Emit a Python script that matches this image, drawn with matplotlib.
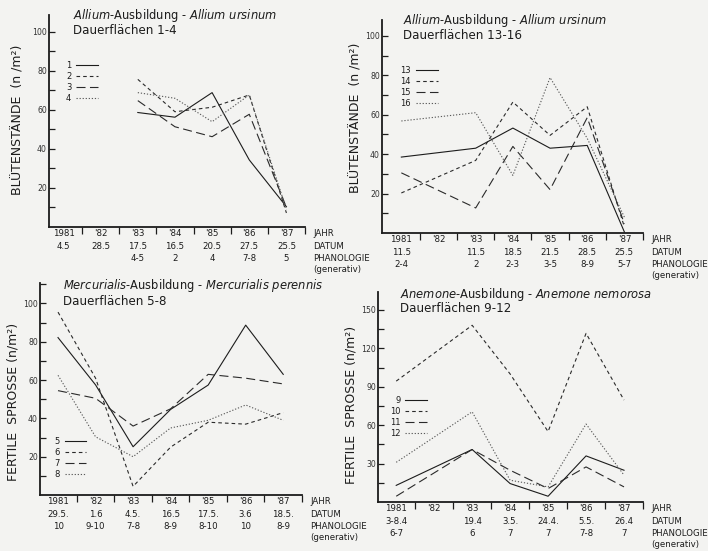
import numpy as np
import matplotlib
matplotlib.use("Agg")
import matplotlib.pyplot as plt

plt.rcParams["lines.scale_dashes"] = False

nan = np.nan
years = ["1981", "'82", "'83", "'84", "'85", "'86", "'87"]
right_rows = ["JAHR", "DATUM", "PHANOLOGIE", "(generativ)"]

# Panel 1: Allium, Dauerflächen 1-4
p1_labels = ["1", "2", "3", "4"]
p1_s1 = [nan, nan, 58.7, 56.3, 68.9, 34.4, 10.4]
p1_s2 = [nan, nan, 75.7, 59.1, 61.4, 67.7, 7.2]
p1_s3 = [nan, nan, 64.8, 51.4, 46.3, 57.8, 10.0]
p1_s4 = [nan, nan, 68.9, 66.0, 54.0, 67.7, 9.0]
p1_dates = ["4.5", "28.5", "17.5", "16.5", "20.5", "27.5", "25.5"]
p1_phen = ["", "", "4-5", "2", "4", "7-8", "5"]

# Panel 2: Allium, Dauerflächen 13-16
p2_labels = ["13", "14", "15", "16"]
p2_s13 = [38.5, nan, 43.0, 53.2, 43.0, 44.4, 0.5]
p2_s14 = [20.3, nan, 36.8, 66.4, 49.5, 64.0, 3.0]
p2_s15 = [30.5, nan, 12.7, 43.9, 22.0, 58.5, 4.6]
p2_s16 = [56.8, nan, 61.0, 29.2, 78.8, 48.0, 8.0]
p2_dates = ["11.5", "", "11.5", "18.5", "21.5", "28.5", "25.5"]
p2_phen = ["2-4", "", "2", "2-3", "3-5", "8-9", "5-7"]

# Panel 3: Mercurialis, Dauerflächen 5-8
p3_labels = ["5", "6", "7", "8"]
p3_s5 = [82.2, 57.5, 25.2, 44.7, 57.4, 88.7, 63.0]
p3_s6 = [95.5, 61.0, 4.5, 25.0, 38.0, 37.0, 43.0]
p3_s7 = [54.5, 50.5, 36.0, 45.0, 63.0, 61.0, 58.0]
p3_s8 = [62.5, 30.4, 20.0, 35.0, 39.0, 47.0, 39.0]
p3_dates = ["29.5.", "1.6", "4.5.", "16.5", "17.5.", "3.6", "18.5."]
p3_phen = ["10", "9-10", "7-8", "8-9", "8-10", "10", "8-9"]

# Panel 4: Anemone, Dauerflächen 9-12
p4_labels = ["9", "10", "11", "12"]
p4_s9 = [13.0, nan, 41.0, 14.4, 4.5, 36.0, 24.8]
p4_s10 = [94.4, nan, 138.0, 100.0, 55.0, 131.7, 79.6]
p4_s11 = [4.5, nan, 41.0, 24.8, 10.5, 27.4, 11.8]
p4_s12 = [31.0, nan, 70.4, 17.0, 11.8, 60.9, 21.0]
p4_dates = ["3-8.4", "", "19.4", "3.5.", "24.4.", "5.5.", "26.4"]
p4_phen = ["6-7", "", "6", "7", "7", "7-8", "7"]

BG = "#f3f3f1"
INK = "#1c1c1c"
styles = ["-", (0, (2.6, 2.2)), (0, (6.5, 3.2)), (0, (0.9, 1.3))]
colors = [INK, "#2a2a2a", "#2a2a2a", "#5a5a5a"]

fig = plt.figure(figsize=(7.08, 5.51), dpi=100, facecolor=BG)
W, H = 708, 551


def px_ax(l, r, t, b):
    return fig.add_axes([l / W, 1 - b / H, (r - l) / W, (b - t) / H])


def panel(ax, series, labels, xlim, ylim, major, minor, dates, phen,
          title1, title2, tpos, leg_anchor):
    ax.set_facecolor(BG)
    x = np.arange(len(years))
    for s, lab, ls, c in zip(series, labels, styles, colors):
        s = np.asarray(s, dtype=float)
        m = ~np.isnan(s)
        ax.plot(x[m], s[m], color=c, lw=0.8, ls=ls, label=lab)
    ax.set_xlim(*xlim)
    ax.set_ylim(*ylim)
    for sp in ["top", "right"]:
        ax.spines[sp].set_visible(False)
    for sp in ["left", "bottom"]:
        ax.spines[sp].set_linewidth(1.3)
        ax.spines[sp].set_color(INK)
    ax.set_yticks(np.arange(minor, ylim[1], minor), minor=True)
    ax.set_yticks(major)
    ax.set_yticklabels([str(v) for v in major], fontsize=5.6, color="#333333")
    ax.tick_params(axis="y", which="both", direction="in", length=4,
                   width=0.9, pad=1.5, color=INK)
    ax.set_xticks(np.arange(0.5, 7, 1.0))
    ax.set_xticklabels([])
    ax.tick_params(axis="x", direction="out", length=5, width=0.9, color=INK)
    offs = [5.0, 14.0, 22.5, 30.5]
    for i in range(len(years)):
        for row, txt in enumerate([years[i], dates[i], phen[i]]):
            ax.annotate(txt, xy=(i, 0), xycoords=("data", "axes fraction"),
                        xytext=(0, -offs[row]), textcoords="offset points",
                        ha="center", va="center", fontsize=6.2, color=INK)
    for j, t in enumerate(right_rows):
        ax.annotate(t, xy=(6.5, 0), xycoords=("data", "axes fraction"),
                    xytext=(6, -offs[j]), textcoords="offset points",
                    ha="left", va="center", fontsize=6.2, color=INK)
    ax.text(tpos[0], tpos[1], title1, transform=ax.transAxes, fontsize=8.3,
            ha="left", va="center", color=INK)
    ax.text(tpos[0], tpos[2], title2, transform=ax.transAxes, fontsize=8.6,
            ha="left", va="center", color=INK)
    leg = ax.legend(loc="upper left", bbox_to_anchor=leg_anchor,
                    markerfirst=False, frameon=False, fontsize=6,
                    handlelength=2.6, handletextpad=0.6, labelspacing=0.25,
                    borderpad=0, borderaxespad=0)
    for t in leg.get_texts():
        t.set_color(INK)


ax1 = px_ax(49, 305, 15, 227)
panel(ax1, [p1_s1, p1_s2, p1_s3, p1_s4], p1_labels, (-0.39, 6.5), (0, 108.7),
      [20, 40, 60, 80, 100], 10, p1_dates, p1_phen,
      r"$\mathit{Allium}$-Ausbildung - $\mathit{Allium\ ursinum}$",
      "Dauerflächen 1-4", (0.094, 1.0, 0.927), (0.066, 0.785))

ax2 = px_ax(382, 643, 20, 233)
panel(ax2, [p2_s13, p2_s14, p2_s15, p2_s16], p2_labels, (-0.52, 6.5), (0, 108),
      [20, 40, 60, 80, 100], 10, p2_dates, p2_phen,
      r"$\mathit{Allium}$-Ausbildung - $\mathit{Allium\ ursinum}$",
      "Dauerflächen 13-16", (0.08, 0.997, 0.925), (0.07, 0.785))

ax3 = px_ax(40, 302, 283, 495)
panel(ax3, [p3_s5, p3_s6, p3_s7, p3_s8], p3_labels, (-0.48, 6.5), (0, 110.7),
      [20, 40, 60, 80, 100], 10, p3_dates, p3_phen,
      r"$\mathit{Mercurialis}$-Ausbildung - $\mathit{Mercurialis\ perennis}$",
      "Dauerflächen 5-8", (0.088, 0.987, 0.915), (0.055, 0.275))

ax4 = px_ax(378, 643, 292, 502)
panel(ax4, [p4_s9, p4_s10, p4_s11, p4_s12], p4_labels, (-0.48, 6.5), (0, 164),
      [30, 60, 90, 120, 150], 15, p4_dates, p4_phen,
      r"$\mathit{Anemone}$-Ausbildung - $\mathit{Anemone\ nemorosa}$",
      "Dauerflächen 9-12", (0.083, 0.99, 0.92), (0.045, 0.505))

fig.text(18 / W, 1 - 120 / H, "BLÜTENSTÄNDE  (n /m²)", rotation=90,
         ha="center", va="center", fontsize=9, color=INK)
fig.text(356 / W, 1 - 118 / H, "BLÜTENSTÄNDE  (n /m²)", rotation=90,
         ha="center", va="center", fontsize=9, color=INK)
fig.text(13 / W, 1 - 402 / H, "FERTILE  SPROSSE (n/m²)", rotation=90,
         ha="center", va="center", fontsize=9, color=INK)
fig.text(351 / W, 1 - 405 / H, "FERTILE  SPROSSE (n/m²)", rotation=90,
         ha="center", va="center", fontsize=9, color=INK)

fig.savefig("out.png", dpi=100, facecolor=BG)
